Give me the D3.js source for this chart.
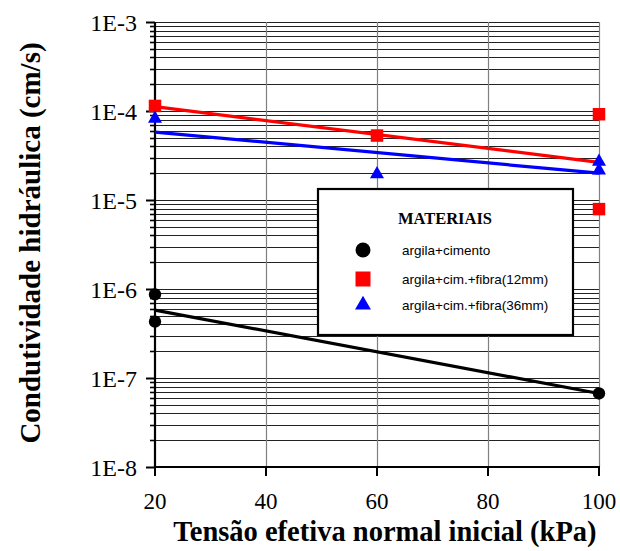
<!DOCTYPE html>
<html>
<head>
<meta charset="utf-8">
<script src="https://cdn.jsdelivr.net/npm/d3@7"></script>
<style>
  html, body { margin: 0; padding: 0; background: #fff; }
  svg { display: block; }
</style>
</head>
<body>
<svg id="chart" width="620" height="551"></svg>
<script>
// Measured points (kPa, cm/s)
const cimentoX = [20, 20, 100];
const cimentoY = [8.7e-7, 4.3e-7, 6.7e-8];
const fibra12X = [20, 60, 100, 100];
const fibra12Y = [1.14e-4, 5.3e-5, 9.2e-5, 7.9e-6];
const fibra36X = [20, 60, 100, 100];
const fibra36Y = [8.2e-5, 1.95e-5, 2.7e-5, 2.15e-5];

// Exponential trend lines (end points)
const trendX = [20, 100];
const trendCimento = [5.8e-7, 6.7e-8];
const trend12 = [1.12e-4, 2.65e-5];
const trend36 = [5.8e-5, 2.0e-5];

const xTicks = [20, 40, 60, 80, 100];
const yTicks = [1e-8, 1e-7, 1e-6, 1e-5, 1e-4, 1e-3];
const yTickLabels = ["1E-8", "1E-7", "1E-6", "1E-5", "1E-4", "1E-3"];

const legendNames = ["argila+cimento", "argila+cim.+fibra(12mm)", "argila+cim.+fibra(36mm)"];
const colors = ["#000000", "#ff0000", "#0000ff"];

const svg = d3.select("#chart");
const pL = 155, pR = 599, pT = 22, pB = 467;
const serif = "Liberation Serif, Times New Roman, serif";

const x = d3.scaleLinear().domain([20, 100]).range([pL, pR]);
const y = d3.scaleLog().domain([1e-8, 1e-3]).range([pB, pT]);

// Minor values for each decade
const minors = [];
for (let e = -8; e < -3; e++) {
  for (let m = 2; m <= 9; m++) minors.push(m * Math.pow(10, e));
}

const grid = svg.append("g");
// Horizontal grid lines (major and minor)
grid.selectAll("line.h")
  .data(minors.concat(yTicks.slice(1)))
  .join("line")
  .attr("x1", pL).attr("x2", pR)
  .attr("y1", d => Math.round(y(d)) + 0.5)
  .attr("y2", d => Math.round(y(d)) + 0.5)
  .attr("stroke", "#222").attr("stroke-width", 1);
// Vertical grid lines
grid.selectAll("line.v")
  .data(xTicks.slice(1))
  .join("line")
  .attr("x1", d => Math.round(x(d)) + 0.5)
  .attr("x2", d => Math.round(x(d)) + 0.5)
  .attr("y1", pT).attr("y2", pB)
  .attr("stroke", "#808080").attr("stroke-width", 1.2);

// Y axis
const yAxis = svg.append("g");
yAxis.append("line")
  .attr("x1", pL).attr("x2", pL).attr("y1", pT).attr("y2", pB + 1)
  .attr("stroke", "#000").attr("stroke-width", 2.2);
yAxis.selectAll("line.minor")
  .data(minors)
  .join("line")
  .attr("x1", pL - 5).attr("x2", pL)
  .attr("y1", d => Math.round(y(d)) + 0.5).attr("y2", d => Math.round(y(d)) + 0.5)
  .attr("stroke", "#000").attr("stroke-width", 1.6);
yAxis.selectAll("line.major")
  .data(yTicks)
  .join("line")
  .attr("x1", pL - 9).attr("x2", pL)
  .attr("y1", d => Math.round(y(d)) + 0.5).attr("y2", d => Math.round(y(d)) + 0.5)
  .attr("stroke", "#000").attr("stroke-width", 2);
yAxis.selectAll("text")
  .data(yTicks)
  .join("text")
  .attr("x", 137)
  .attr("y", d => y(d) + 8.5)
  .attr("text-anchor", "end")
  .attr("font-family", serif)
  .attr("font-size", 24)
  .text((d, i) => yTickLabels[i]);

// X axis
const xAxis = svg.append("g");
xAxis.append("line")
  .attr("x1", pL - 1).attr("x2", pR + 1).attr("y1", pB).attr("y2", pB)
  .attr("stroke", "#000").attr("stroke-width", 2.2);
xAxis.selectAll("line.tick")
  .data(xTicks)
  .join("line")
  .attr("x1", d => x(d)).attr("x2", d => x(d))
  .attr("y1", pB).attr("y2", pB + 9)
  .attr("stroke", "#000").attr("stroke-width", 2);
xAxis.selectAll("text")
  .data(xTicks)
  .join("text")
  .attr("x", d => x(d))
  .attr("y", 509)
  .attr("text-anchor", "middle")
  .attr("font-family", serif)
  .attr("font-size", 23)
  .text(d => d);

// Axis titles
svg.append("text")
  .attr("x", 385).attr("y", 541)
  .attr("text-anchor", "middle")
  .attr("font-family", serif)
  .attr("font-weight", "bold")
  .attr("font-size", 28.5)
  .text("Tensão efetiva normal inicial (kPa)");
svg.append("text")
  .attr("transform", "translate(40,243) rotate(-90)")
  .attr("text-anchor", "middle")
  .attr("font-family", serif)
  .attr("font-weight", "bold")
  .attr("font-size", 29)
  .text("Condutividade hidráulica (cm/s)");

// Trend lines
const line = d3.line().x(d => x(d[0])).y(d => y(d[1]));
const trends = [trendCimento, trend12, trend36];
trends.forEach((t, i) => {
  svg.append("path")
    .datum(trendX.map((v, j) => [v, t[j]]))
    .attr("d", line)
    .attr("fill", "none")
    .attr("stroke", colors[i])
    .attr("stroke-width", 3.2);
});

// Markers
const symCircle = d3.symbol().type(d3.symbolCircle).size(Math.PI * 6.2 * 6.2);
const symSquare = d3.symbol().type(d3.symbolSquare).size(12.5 * 12.5);
const symTri = d3.symbol().type(d3.symbolTriangle).size(85);

function drawPoints(xs, ys, sym, color) {
  svg.append("g").selectAll("path")
    .data(xs.map((v, i) => [v, ys[i]]))
    .join("path")
    .attr("transform", d => `translate(${x(d[0])},${y(d[1])})`)
    .attr("d", sym)
    .attr("fill", color);
}
drawPoints(cimentoX, cimentoY, symCircle, colors[0]);
drawPoints(fibra12X, fibra12Y, symSquare, colors[1]);
drawPoints(fibra36X, fibra36Y, symTri, colors[2]);

// Legend
const lg = svg.append("g");
lg.append("rect")
  .attr("x", 318).attr("y", 189).attr("width", 255).attr("height", 146)
  .attr("fill", "#fff").attr("stroke", "#000").attr("stroke-width", 2.2);
lg.append("text")
  .attr("x", 445).attr("y", 224)
  .attr("text-anchor", "middle")
  .attr("font-family", serif)
  .attr("font-weight", "bold")
  .attr("font-size", 16.5)
  .text("MATERIAIS");
const legendSyms = [
  d3.symbol().type(d3.symbolCircle).size(Math.PI * 7.5 * 7.5),
  d3.symbol().type(d3.symbolSquare).size(15 * 15),
  d3.symbol().type(d3.symbolTriangle).size(110)
];
const legendY = [250, 279, 305];
legendNames.forEach((name, i) => {
  lg.append("path")
    .attr("transform", `translate(363,${legendY[i]})`)
    .attr("d", legendSyms[i])
    .attr("fill", colors[i]);
  lg.append("text")
    .attr("x", 402).attr("y", legendY[i] + 5)
    .attr("font-family", "Liberation Sans, Arial, sans-serif")
    .attr("font-size", 13.5)
    .text(name);
});
</script>
</body>
</html>
